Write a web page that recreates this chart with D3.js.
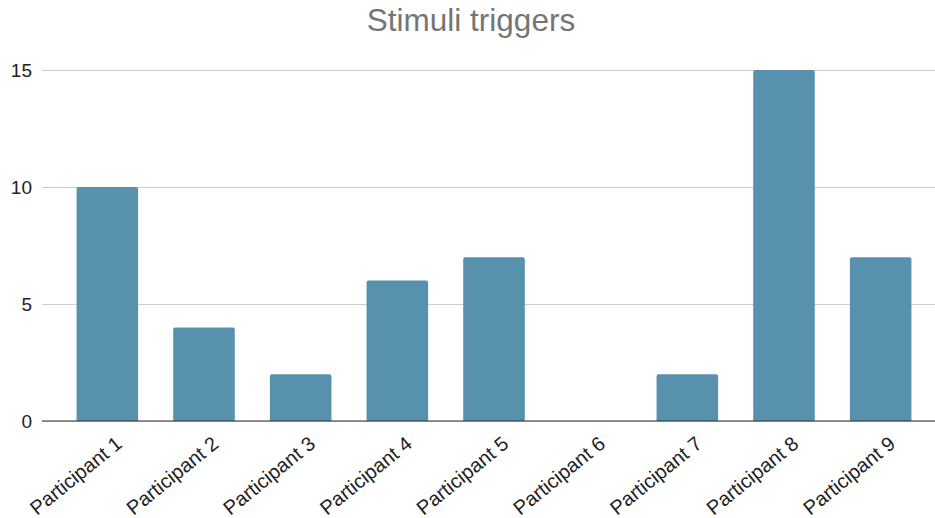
<!DOCTYPE html>
<html>
<head>
<meta charset="utf-8">
<script src="https://cdn.jsdelivr.net/npm/d3@7"></script>
<style>
  html, body { margin: 0; padding: 0; background: #fff; }
  svg { display: block; font-family: "Liberation Sans", Arial, sans-serif; }
</style>
</head>
<body>
<svg id="chart" width="935" height="518"></svg>
<script>
const categories = ["Participant 1", "Participant 2", "Participant 3", "Participant 4", "Participant 5",
                    "Participant 6", "Participant 7", "Participant 8", "Participant 9"];
const triggers = [10, 4, 2, 6, 7, 0, 2, 15, 7];
const yTicks = [0, 5, 10, 15];
const title = "Stimuli triggers";

const svg = d3.select("#chart");
const plot = { left: 42, right: 935, top: 70, bottom: 421 };

const x = d3.scaleBand()
  .domain(categories)
  .range([59, 929])
  .paddingInner(0.363)
  .paddingOuter(0.1815);

const y = d3.scaleLinear()
  .domain([0, 15])
  .range([plot.bottom, plot.top]);

// Title
svg.append("text")
  .attr("x", 471)
  .attr("y", 31)
  .attr("text-anchor", "middle")
  .attr("fill", "#757575")
  .style("font-size", "31.5px")
  .text(title);

// Horizontal gridlines and y tick labels
const yAxis = d3.axisLeft(y).tickValues(yTicks).tickSize(-(plot.right - plot.left)).tickPadding(10);
const gy = svg.append("g").attr("transform", `translate(${plot.left},0)`).call(yAxis);
gy.select(".domain").remove();
gy.selectAll(".tick line").attr("stroke", "#cccccc").attr("stroke-width", 1);
gy.selectAll(".tick text")
  .attr("fill", "#222")
  .style("font-size", "19px")
  .style("font-family", "'Liberation Sans', Arial, sans-serif");

// Bars with slightly rounded top corners
const r = 2;
svg.append("g").selectAll("path")
  .data(categories.map((c, i) => ({ c, v: triggers[i] })))
  .join("path")
  .attr("fill", "#5891ae")
  .attr("d", d => {
    const x0 = x(d.c), x1 = x0 + x.bandwidth();
    const yb = y(0), yt = y(d.v);
    if (yb - yt <= 0) return "";
    const rr = Math.min(r, (yb - yt));
    return `M${x0},${yb}V${yt + rr}Q${x0},${yt} ${x0 + rr},${yt}H${x1 - rr}Q${x1},${yt} ${x1},${yt + rr}V${yb}Z`;
  });

// Baseline
svg.append("line")
  .attr("x1", plot.left).attr("x2", plot.right)
  .attr("y1", y(0)).attr("y2", y(0))
  .attr("stroke", "#333").attr("stroke-width", 1.2);

// Category labels, rotated
const xAxis = d3.axisBottom(x).tickSize(0);
const gx = svg.append("g").attr("transform", `translate(0,${plot.bottom})`).call(xAxis);
gx.select(".domain").remove();
gx.selectAll(".tick text")
  .attr("fill", "#222")
  .style("font-size", "20px")
  .style("font-family", "'Liberation Sans', Arial, sans-serif")
  .attr("text-anchor", "end")
  .attr("dy", null)
  .attr("y", 0)
  .attr("transform", "translate(16,25) rotate(-39)");
</script>
</body>
</html>
